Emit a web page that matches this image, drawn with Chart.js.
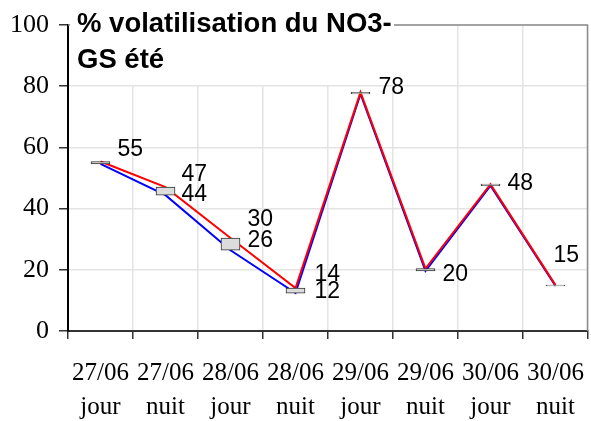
<!DOCTYPE html>
<html>
<head>
<meta charset="utf-8">
<script src="https://cdn.jsdelivr.net/npm/chart.js@4.4.1/dist/chart.umd.min.js"></script>
<style>
  body { margin: 0; background: #fff; }
  #wrap { width: 591px; height: 421px; }
</style>
</head>
<body>
<div id="wrap"><canvas id="chart" width="591" height="421"></canvas></div>
<script>
// données
const categories = [
    ['27/06', 'jour'], ['27/06', 'nuit'], ['28/06', 'jour'], ['28/06', 'nuit'],
    ['29/06', 'jour'], ['29/06', 'nuit'], ['30/06', 'jour'], ['30/06', 'nuit']
];
const serieRouge = [55.4, 47, 30.4, 14, 78, 20.4, 48, 15];
const serieBleue = [54.6, 44.4, 26.4, 12.4, 77.5, 19.6, 47.5, 14.7];
const yTicks = [0, 20, 40, 60, 80, 100];
const titre = ['% volatilisation du NO3-', 'GS été'];

// décalage des étiquettes par rapport au point (null = pas d'étiquette)
const etiqRouge = [[17, -12], [16, -13], [17, -18], [19, -14], [18, -5], null, [17, 0], [-2, -29]];
const etiqBleue = [null, [16, 0], [17, -10], [19, -1], null, [17, 4], null, null];

const barres = serieBleue.map(function(b, i) { return [b, serieRouge[i]]; });

// cadre haut/droite + titre (dessinés sous les courbes)
const cadreTitrePlugin = {
    id: 'cadreTitre',
    beforeDatasetsDraw: function(chart) {
        const ctx = chart.ctx;
        const a = chart.chartArea;
        ctx.save();
        ctx.strokeStyle = '#8c8c8c';
        ctx.lineWidth = 1.5;
        ctx.beginPath();
        ctx.moveTo(a.left, a.top);
        ctx.lineTo(a.right - 0.5, a.top);
        ctx.lineTo(a.right - 0.5, a.bottom);
        ctx.stroke();
        ctx.fillStyle = '#fff';
        ctx.fillRect(a.left + 2, 0, 324, 85);
        ctx.fillStyle = '#000';
        ctx.font = 'bold 27.5px "Liberation Sans", Arial, sans-serif';
        ctx.textAlign = 'left';
        ctx.textBaseline = 'middle';
        ctx.fillText(titre[0], 77, 24);
        ctx.fillText(titre[1], 77, 60);
        ctx.restore();
    }
};

const etiquettesPlugin = {
    id: 'etiquettes',
    afterDatasetsDraw: function(chart) {
        const ctx = chart.ctx;
        ctx.save();
        ctx.font = '23px "Liberation Sans", Arial, sans-serif';
        ctx.fillStyle = '#000';
        ctx.textAlign = 'left';
        ctx.textBaseline = 'middle';
        [[1, serieRouge, etiqRouge], [2, serieBleue, etiqBleue]].forEach(function(s) {
            const meta = chart.getDatasetMeta(s[0]);
            meta.data.forEach(function(pt, i) {
                const off = s[2][i];
                if (!off) return;
                ctx.fillText(String(Math.round(s[1][i])), pt.x + off[0], pt.y + off[1]);
            });
        });
        ctx.restore();
    }
};

new Chart(document.getElementById('chart'), {
    type: 'bar',
    data: {
        labels: categories,
        datasets: [
            {
                type: 'bar',
                data: barres,
                backgroundColor: '#dcdcdc',
                borderColor: '#333',
                borderWidth: 1,
                borderSkipped: false,
                barThickness: 19,
                minBarLength: 1,
                order: 0
            },
            {
                type: 'line',
                data: serieRouge,
                borderColor: '#ff0000',
                borderWidth: 2,
                pointRadius: 0,
                tension: 0,
                order: 1
            },
            {
                type: 'line',
                data: serieBleue,
                borderColor: '#0000ff',
                borderWidth: 2,
                pointRadius: 0,
                tension: 0,
                order: 2
            }
        ]
    },
    options: {
        responsive: false,
        animation: false,
        layout: { padding: { top: 25, right: 3, left: 0, bottom: 0 } },
        plugins: {
            legend: { display: false },
            tooltip: { enabled: false }
        },
        scales: {
            x: {
                offset: true,
                grid: {
                    offset: true,
                    color: '#e4e4e4',
                    lineWidth: 1.5,
                    tickColor: '#333',
                    tickLength: 8
                },
                border: { color: '#333', width: 2 },
                ticks: {
                    color: '#000',
                    font: { family: '"Liberation Serif", "Times New Roman", serif', size: 25, lineHeight: 1.35 },
                    padding: 18,
                    maxRotation: 0,
                    autoSkip: false
                },
                afterFit: function(scale) {
                    scale.height = 90;
                    scale.paddingLeft = 0;
                    scale.paddingRight = 0;
                }
            },
            y: {
                min: 0,
                max: 100,
                afterBuildTicks: function(scale) {
                    scale.ticks = yTicks.map(function(v) { return { value: v }; });
                },
                grid: {
                    color: '#e4e4e4',
                    lineWidth: 1.5,
                    tickColor: '#333',
                    tickLength: 9
                },
                border: { color: '#000', width: 2 },
                ticks: {
                    color: '#000',
                    font: { family: '"Liberation Serif", "Times New Roman", serif', size: 26 },
                    padding: 10
                },
                afterFit: function(scale) {
                    scale.width = 68;
                    scale.paddingTop = 0;
                    scale.paddingBottom = 0;
                }
            }
        }
    },
    plugins: [cadreTitrePlugin, etiquettesPlugin]
});
</script>
</body>
</html>
